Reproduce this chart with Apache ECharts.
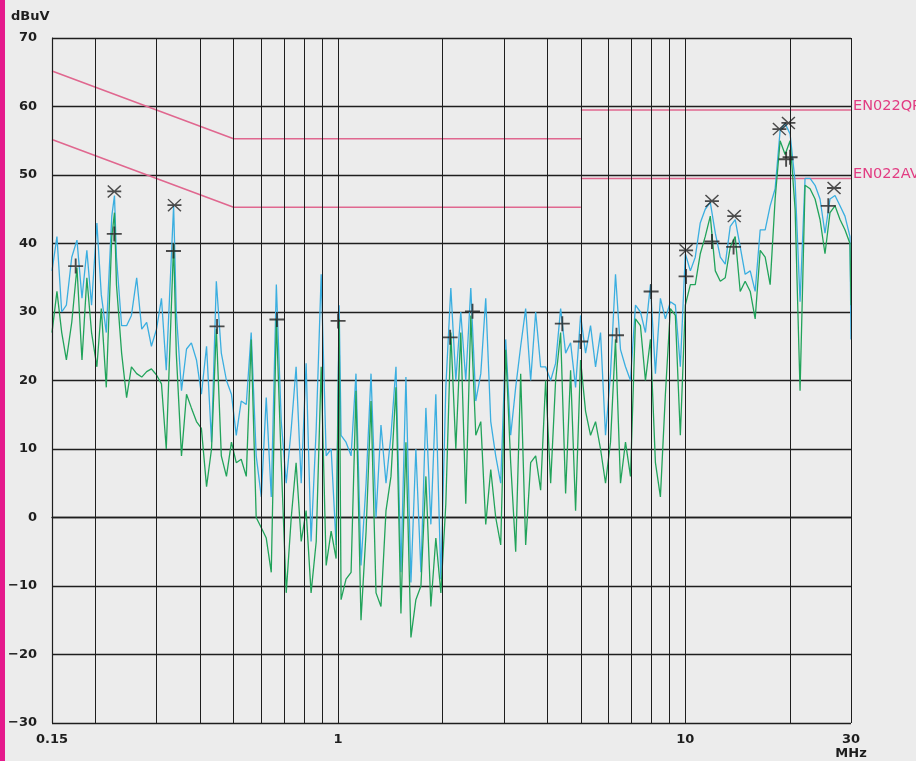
<!DOCTYPE html>
<html>
<head>
<meta charset="utf-8">
<script src="https://cdn.jsdelivr.net/npm/echarts@6/dist/echarts.min.js"></script>
<style>
  html, body { margin: 0; padding: 0; background: #ececec; }
  #emi { width: 916px; height: 761px; }
</style>
</head>
<body>
<div id="emi"></div>
<script>
var emiChart = echarts.init(document.getElementById("emi"));

// sweep frequencies (MHz), shared by both detector traces
let freqMHz = [
  0.15, 0.155, 0.160, 0.165, 0.171, 0.177, 0.183, 0.189, 0.195, 0.202,
  0.208, 0.215, 0.223, 0.227, 0.230, 0.238, 0.246, 0.254, 0.263, 0.272,
  0.281, 0.290, 0.300, 0.310, 0.320, 0.336, 0.342, 0.354, 0.366, 0.378,
  0.391, 0.404, 0.418, 0.432, 0.446, 0.461, 0.477, 0.493, 0.509, 0.526,
  0.544, 0.562, 0.581, 0.601, 0.621, 0.642, 0.664, 0.686, 0.709, 0.733,
  0.757, 0.783, 0.809, 0.836, 0.865, 0.894, 0.924, 0.955, 0.987, 1.007,
  1.020, 1.054, 1.090, 1.126, 1.164, 1.204, 1.244, 1.286, 1.329, 1.374,
  1.420, 1.468, 1.517, 1.568, 1.621, 1.675, 1.732, 1.790, 1.850, 1.912,
  1.977, 2.043, 2.112, 2.183, 2.256, 2.332, 2.411, 2.492, 2.576, 2.662,
  2.752, 2.844, 2.940, 3.039, 3.141, 3.247, 3.356, 3.469, 3.586, 3.707,
  3.831, 3.960, 4.094, 4.231, 4.374, 4.521, 4.673, 4.830, 4.993, 5.161,
  5.334, 5.514, 5.699, 5.891, 6.089, 6.294, 6.506, 6.725, 6.951, 7.185,
  7.426, 7.676, 7.934, 8.201, 8.477, 8.762, 9.056, 9.361, 9.674, 10.00,
  10.34, 10.68, 11.04, 11.41, 11.80, 12.20, 12.61, 13.03, 13.47, 13.92,
  14.39, 14.87, 15.38, 15.89, 16.43, 16.98, 17.55, 18.14, 18.75, 19.38,
  20.03, 20.71, 21.40, 22.12, 22.87, 23.64, 24.43, 25.25, 26.10, 26.98,
  27.89, 28.82, 29.80, 30.0
];

// peak detector trace (blue), dBuV
let peakTrace = [
  36, 41, 30, 31, 38, 40.5, 32, 39, 31, 43,
  32.5, 27, 44, 47, 38, 28, 28, 29.5, 35, 27.5,
  28.5, 25, 27.5, 32, 21.5, 45.5, 30, 18.5, 24.6, 25.5,
  23, 18, 25, 11, 34.5, 24, 20, 18, 12, 17,
  16.5, 27, 9, 3, 17.5, 3, 34, 14, 5, 13,
  22, 5, 22.5, -3.5, 13, 35.5, 9, 10, -4, 31,
  12, 11, 9, 21, -7, 5, 21, 0, 13.5, 5,
  12, 22, -8, 20.5, -9.5, 10, -8, 16, -1, 18,
  -9, 19, 33.5, 20, 30, 20, 33.5, 17, 21, 32,
  14, 9, 5, 26, 12, 19, 25, 30.5, 20, 30,
  22, 22, 20, 22.5, 30.5, 24, 25.5, 19, 29.5, 24,
  28, 22, 27, 12, 21, 35.5, 24.5, 22, 20, 31,
  30, 27, 34, 21, 32, 29, 31.5, 31, 22, 38.5,
  36, 38, 43, 45, 46, 41.5, 38, 37, 42.5, 43.5,
  39.5, 35.5, 36, 33, 42, 42, 45.5, 48, 56.5, 57.5,
  56, 49, 31.5, 49.5, 49.5, 48.5, 46.5, 41.5, 46.5, 47,
  45.5, 44, 41, 26
];

// average detector trace (green), dBuV
let avgTrace = [
  27, 33, 27, 23, 28.5, 36.5, 23, 35, 27, 22,
  30.5, 19, 41, 44.5, 34, 24, 17.5, 22, 21, 20.5,
  21.3, 21.7, 20.8, 19.5, 10, 40, 24, 9, 18, 16,
  14, 13, 4.5, 10, 27.5, 9, 6, 11, 8, 8.5,
  6, 26, 0, -1.5, -3, -8, 29, 8, -11, 0,
  8, -3.5, 1, -11, -3.5, 22, -7, -2, -6, 29,
  -12, -9, -8, 18.5, -15, -2, 17, -11, -13, 1,
  6, 19, -14, 11, -17.5, -12, -10, 6, -13, -3,
  -11, 2, 27, 10, 27, 2, 29.5, 12, 14, -1,
  7, 0, -4, 24.5, 8, -5, 21, -4, 8, 9,
  4, 20, 5, 20, 27, 3.5, 21.5, 1, 23, 15.5,
  12, 14, 10, 5, 11, 26, 5, 11, 6, 29,
  28, 20, 26, 8, 3, 18, 30.5, 29.5, 12, 31,
  34, 34, 38.5, 41, 44, 36, 34.5, 35, 39.5, 41,
  33, 34.5, 33, 29, 39, 38, 34, 46.5, 55, 53,
  55, 45, 18.5, 48.5, 48, 46.5, 43.5, 38.5, 44.5, 45.5,
  43.5, 42, 40, 31
];

// final measurement points
let qpMarkFreq = [0.2267, 0.3379, 10.05, 11.93, 13.83, 18.66, 19.81, 26.81];
let qpMarkVal  = [47.6, 45.6, 39.0, 46.2, 44.0, 56.7, 57.6, 48.1];
let avMarkFreq = [0.1755, 0.2267, 0.3357, 0.4481, 0.6667, 1.0, 2.102, 2.438, 4.423, 4.993, 6.335, 7.970, 10.05, 11.93, 13.77, 19.51, 20.03, 25.81];
let avMarkVal  = [36.7, 41.4, 38.9, 27.9, 28.9, 28.7, 26.3, 30.1, 28.3, 25.7, 26.6, 33.0, 35.2, 40.3, 39.5, 52.3, 52.6, 45.5];

// limit lines EN55022 (gap at the 5 MHz step)
let limitFreq = [0.15, 0.5, 5, 5, 5, 30];
let limitQP = [65.2, 55.3, 55.3, null, 59.5, 59.5];
let limitAV = [55.2, 45.3, 45.3, null, 49.5, 49.5];

// vertical grid (MHz)
let gridFreq = [0.15, 0.2, 0.3, 0.4, 0.5, 0.6, 0.7, 0.8, 0.9, 1, 2, 3, 4, 5, 6, 7, 8, 9, 10, 20, 30];

function pairs(xs, ys) {
  return xs.map(function (x, i) { return [x, ys[i] === null ? "-" : ys[i]]; });
}

var plusPath = "path://M0,7L16,7L16,9L0,9Z M7,0L9,0L9,16L7,16Z";
var starPath = "path://M0,1.2L1.2,0L16,14.8L14.8,16Z M14.8,0L16,1.2L1.2,16L0,14.8Z M0,6.9L16,6.9L16,9.1L0,9.1Z";

var labelFont = "DejaVu Sans";

emiChart.setOption({
  backgroundColor: "#ececec",
  animation: false,
  grid: { left: 52, right: 65, top: 38, bottom: 35 },
  graphic: [
    { type: "rect", left: 0, top: 0, shape: { width: 5, height: 761 }, style: { fill: "#e5198c" } },
    { type: "text", left: 11, top: 10, style: { text: "dBuV", font: "bold 13px " + labelFont, fill: "#1e1e1e" } }
  ],
  xAxis: {
    type: "log",
    logBase: 10,
    min: 0.15,
    max: 30,
    axisLine: { show: true, lineStyle: { color: "#1e1e1e", width: 1.4 } },
    axisTick: { show: false },
    splitLine: { show: false },
    axisLabel: {
      margin: 10,
      color: "#1e1e1e",
      fontFamily: labelFont,
      fontWeight: "bold",
      fontSize: 13,
      lineHeight: 14,
      showMinLabel: true,
      showMaxLabel: true,
      formatter: function (v) {
        if (v < 0.9) return "0.15";
        if (v > 25) return "30\nMHz";
        return String(Math.round(v));
      }
    }
  },
  yAxis: {
    type: "value",
    min: -30,
    max: 70,
    interval: 10,
    axisLine: { show: true, lineStyle: { color: "#1e1e1e", width: 1.2 } },
    axisTick: { show: false },
    splitLine: { show: true, lineStyle: { color: "#1e1e1e", width: 1.3 } },
    axisLabel: {
      margin: 15,
      color: "#1e1e1e",
      fontFamily: labelFont,
      fontWeight: "bold",
      fontSize: 13,
      formatter: function (v) { return v < 0 ? "\u2212" + Math.abs(v) : String(v); }
    }
  },
  series: [
    {
      name: "grid",
      type: "line",
      data: [],
      silent: true,
      z: 1,
      markLine: {
        silent: true,
        symbol: ["none", "none"],
        label: { show: false },
        lineStyle: { color: "#1e1e1e", width: 1, type: "solid" },
        emphasis: { disabled: true },
        data: gridFreq.map(function (f) { return { xAxis: f }; })
      }
    },
    {
      name: "EN022QP",
      type: "line",
      data: pairs(limitFreq, limitQP),
      symbol: "none",
      silent: true,
      z: 2,
      lineStyle: { color: "#e0678f", width: 1.6 },
      endLabel: { show: true, formatter: "EN022QP", color: "#e23c82", fontFamily: labelFont, fontSize: 14.5, distance: 2, offset: [0, -4] }
    },
    {
      name: "EN022AV",
      type: "line",
      data: pairs(limitFreq, limitAV),
      symbol: "none",
      silent: true,
      z: 2,
      lineStyle: { color: "#e0678f", width: 1.6 },
      endLabel: { show: true, formatter: "EN022AV", color: "#e23c82", fontFamily: labelFont, fontSize: 14.5, distance: 2, offset: [0, -4] }
    },
    {
      name: "Peak",
      type: "line",
      data: pairs(freqMHz, peakTrace),
      symbol: "none",
      z: 3,
      lineStyle: { color: "#3aaee0", width: 1.3 }
    },
    {
      name: "Average",
      type: "line",
      data: pairs(freqMHz, avgTrace),
      symbol: "none",
      z: 4,
      lineStyle: { color: "#21a35a", width: 1.3 }
    },
    {
      name: "QP final",
      type: "scatter",
      data: pairs(qpMarkFreq, qpMarkVal),
      symbol: starPath,
      symbolSize: [14, 13],
      z: 5,
      itemStyle: { color: "#222222" }
    },
    {
      name: "AV final",
      type: "scatter",
      data: pairs(avMarkFreq, avMarkVal),
      symbol: plusPath,
      symbolSize: 15,
      z: 5,
      itemStyle: { color: "#222222" }
    }
  ]
});
</script>
</body>
</html>
